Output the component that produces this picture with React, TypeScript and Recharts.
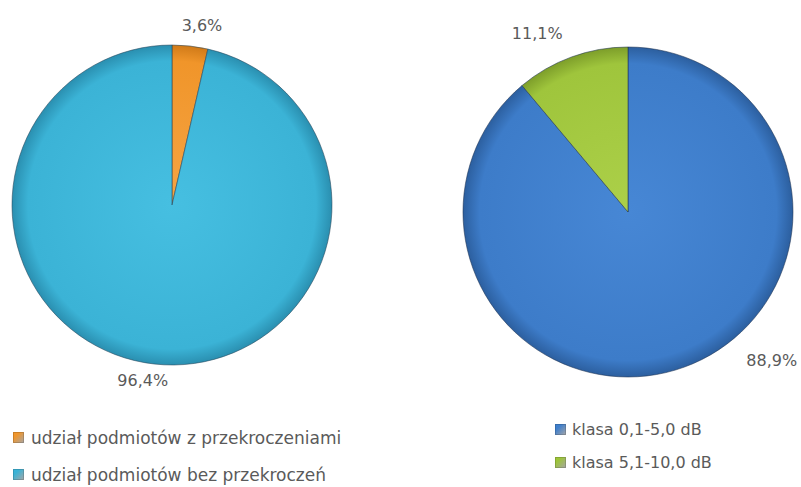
import React from "react";
import { PieChart, Pie, Cell, Legend } from "recharts";

// left chart: udział podmiotów
const leftNames = ["udział podmiotów z przekroczeniami", "udział podmiotów bez przekroczeń"];
const leftValues = [3.6, 96.4];
const leftLabels = ["3,6%", "96,4%"];

// right chart: klasy przekroczeń
const rightNames = ["klasa 0,1-5,0 dB", "klasa 5,1-10,0 dB"];
const rightValues = [88.9, 11.1];
const rightLabels = ["88,9%", "11,1%"];

const leftColors = ["url(#gOrange)", "url(#gTeal)"];
const leftSwatch = ["#f0962c", "#3bb3d6"];
const rightColors = ["url(#gBlue)", "url(#gGreen)"];
const rightSwatch = ["#3f7fcc", "#9dc43a"];

// label nudges (angle shift in degrees, extra radius)
const leftNudge = [
  { da: -3, dr: 22 },
  { da: -3, dr: 18 },
];
const rightNudge = [
  { da: 24, dr: 42 },
  { da: 7, dr: 35 },
];

const RAD = Math.PI / 180;
const FONT = "'DejaVu Sans', sans-serif";

function makeLabel(labels: string[], nudge: { da: number; dr: number }[]) {
  return (props: any) => {
    const { cx, cy, midAngle, outerRadius, index } = props;
    const a = (midAngle + nudge[index].da) * RAD;
    const r = outerRadius + nudge[index].dr;
    const x = cx + r * Math.cos(a);
    const y = cy - r * Math.sin(a);
    return (
      <text x={x} y={y} textAnchor="middle" dominantBaseline="central" fill="#5a5a5a" fontSize={16} fontFamily={FONT}>
        {labels[index]}
      </text>
    );
  };
}

function makeLegend(names: string[], swatch: string[], gap: number, gapText: number, size: number) {
  return () => (
    <div style={{ fontFamily: FONT, fontSize: size, color: "#5a5a5a" }}>
      {names.map((n, i) => (
        <div key={n} style={{ display: "flex", alignItems: "center", height: gap }}>
          <span
            style={{
              display: "inline-block",
              width: 11,
              height: 11,
              marginRight: gapText,
              background: `linear-gradient(135deg, ${swatch[i]} 30%, rgba(0,0,0,0.35))`,
              boxShadow: "inset 0 0 0 1px rgba(0,0,0,0.15)",
            }}
          />
          {n}
        </div>
      ))}
    </div>
  );
}

function Grad({ id, cx, cy, r, c1, c2, c3 }: any) {
  return (
    <radialGradient id={id} gradientUnits="userSpaceOnUse" cx={cx} cy={cy} r={r}>
      <stop offset="0%" stopColor={c1} />
      <stop offset="90%" stopColor={c2} />
      <stop offset="100%" stopColor={c3} />
    </radialGradient>
  );
}

export default function App() {
  // chart margin is 5, Pie cx/cy are measured from inside it
  const m = 5;
  const lcx = 172 - m, lcy = 205 - m, lr = 160;
  const rcx = 198 - m, rcy = 212 - m, rr = 165;
  return (
    <div style={{ position: "absolute", left: 0, top: 0, width: 801, height: 487, background: "#fff" }}>
      <div style={{ position: "absolute", left: 0, top: 0 }}>
        <PieChart width={430} height={487}>
          <defs>
            <Grad id="gTeal" cx={lcx + m} cy={lcy + m} r={lr} c1="#46bfe1" c2="#3bb3d6" c3="#2a8fb0" />
            <Grad id="gOrange" cx={lcx + m} cy={lcy + m} r={lr} c1="#f6a443" c2="#f0952a" c3="#d07a18" />
          </defs>
          <Pie
            data={leftNames.map((n, i) => ({ name: n, value: leftValues[i] }))}
            dataKey="value"
            nameKey="name"
            cx={lcx}
            cy={lcy}
            outerRadius={lr}
            startAngle={90}
            endAngle={-270}
            stroke="rgba(40,70,90,0.55)"
            strokeWidth={1}
            label={makeLabel(leftLabels, leftNudge)}
            labelLine={false}
            isAnimationActive={false}
          >
            {leftValues.map((_, i) => (
              <Cell key={i} fill={leftColors[i]} />
            ))}
          </Pie>
          <Legend
            content={makeLegend(leftNames, leftSwatch, 37, 7, 17)}
            layout="vertical"
            wrapperStyle={{ left: 13, top: 419, width: 410 }}
          />
        </PieChart>
      </div>
      <div style={{ position: "absolute", left: 430, top: 0 }}>
        <PieChart width={371} height={487}>
          <defs>
            <Grad id="gBlue" cx={rcx + m} cy={rcy + m} r={rr} c1="#4787d5" c2="#3d7cc9" c3="#2c5f9f" />
            <Grad id="gGreen" cx={rcx + m} cy={rcy + m} r={rr} c1="#acd049" c2="#9fc53c" c3="#7d9e2a" />
          </defs>
          <Pie
            data={rightNames.map((n, i) => ({ name: n, value: rightValues[i] }))}
            dataKey="value"
            nameKey="name"
            cx={rcx}
            cy={rcy}
            outerRadius={rr}
            startAngle={90}
            endAngle={-270}
            stroke="rgba(30,50,80,0.55)"
            strokeWidth={1}
            label={makeLabel(rightLabels, rightNudge)}
            labelLine={false}
            isAnimationActive={false}
          >
            {rightValues.map((_, i) => (
              <Cell key={i} fill={rightColors[i]} />
            ))}
          </Pie>
          <Legend
            content={makeLegend(rightNames, rightSwatch, 33, 6, 16)}
            layout="vertical"
            wrapperStyle={{ left: 125, top: 413, width: 240 }}
          />
        </PieChart>
      </div>
    </div>
  );
}
